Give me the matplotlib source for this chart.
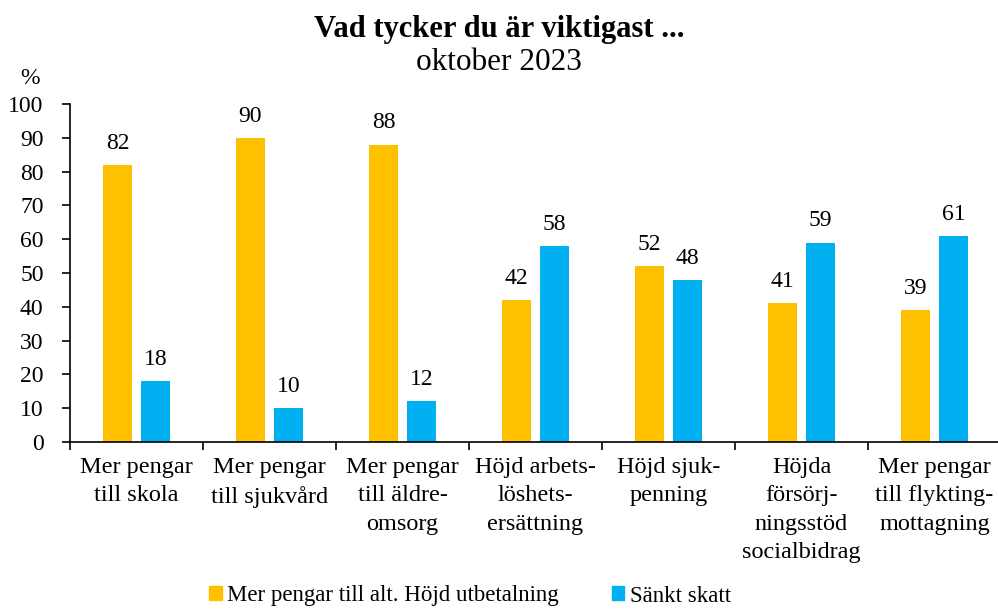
import matplotlib.pyplot as plt
import numpy as np
from matplotlib.patches import Patch

plt.rcParams['font.family'] = ['Liberation Serif', 'DejaVu Serif']

categories = [
    'Mer pengar\ntill skola',
    'Mer pengar\ntill sjukvård',
    'Mer pengar\ntill äldre-\nomsorg',
    'Höjd arbets-\nlöshets-\nersättning',
    'Höjd sjuk-\npenning',
    'Höjda\nförsörj-\nningsstöd\nsocialbidrag',
    'Mer pengar\ntill flykting-\nmottagning',
]
more_money = [82, 90, 88, 42, 52, 41, 39]
lower_tax = [18, 10, 12, 58, 48, 59, 61]
series_names = ['Mer pengar till alt. Höjd utbetalning', 'Sänkt skatt']

YELLOW = '#FFC000'
BLUE = '#00B0F0'

fig = plt.figure(figsize=(9.98, 6.09), dpi=100)
ax = fig.add_axes([70 / 998, 1 - 442 / 609, 931 / 998, 338 / 609])

x = np.arange(len(categories))
w = 0.225
off = 0.143
b1 = ax.bar(x - off, more_money, w, color=YELLOW)
b2 = ax.bar(x + off, lower_tax, w, color=BLUE)

for bars in (b1, b2):
    for bar in bars:
        h = bar.get_height()
        ax.annotate(f'{int(h)}', (bar.get_x() + bar.get_width() / 2, h),
                    xytext=(0, 8), textcoords='offset points',
                    ha='center', va='bottom', fontsize=17)

ax.set_xlim(-0.5, len(categories) - 0.5)
ax.set_ylim(0, 100)
ax.set_yticks(range(0, 101, 10))
ax.tick_params(axis='y', labelsize=17, direction='out', length=6, width=1.2, pad=13)

# category boundaries as major ticks, labels on minor ticks
ax.set_xticks(np.arange(-0.5, len(categories), 1))
ax.set_xticklabels([])
ax.set_xticks(x, minor=True)
ax.set_xticklabels(categories, minor=True, fontsize=17.5, linespacing=1.45)
ax.tick_params(axis='x', which='major', direction='out', length=6, width=1.2)
ax.tick_params(axis='x', which='minor', length=0, pad=11)

for s in ('top', 'right'):
    ax.spines[s].set_visible(False)
for s in ('left', 'bottom'):
    ax.spines[s].set_linewidth(1.2)
ax.spines['bottom'].set_clip_on(False)

fig.text(0.5, 1 - 29 / 609, 'Vad tycker du är viktigast ...', ha='center', va='center',
         fontsize=22, fontweight='bold')
fig.text(0.5, 1 - 63 / 609, 'oktober 2023', ha='center', va='center', fontsize=22.5)
fig.text(30 / 998, 1 - 78 / 609, '%', ha='center', va='center', fontsize=17)

handles = [Patch(color=YELLOW), Patch(color=BLUE)]
fig.legend(handles, series_names, loc='center', bbox_to_anchor=(0.471, 1 - 596 / 609),
           ncol=2, frameon=False, fontsize=16.5, handlelength=0.55, handleheight=0.55,
           handletextpad=0.25, columnspacing=2.3, borderaxespad=0)

fig.savefig('out.png', dpi=100)
